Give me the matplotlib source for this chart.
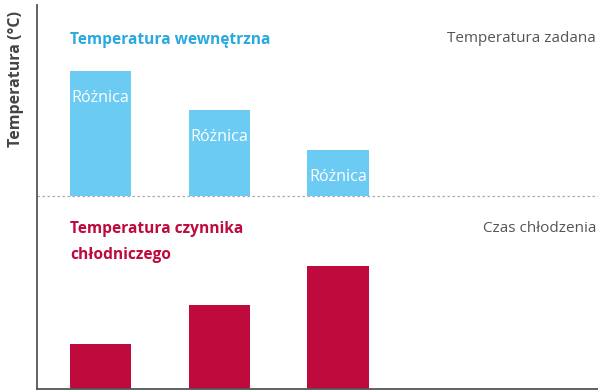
import matplotlib
matplotlib.use("Agg")
import matplotlib.pyplot as plt

# Data (arbitrary temperature/time units)
positions = [0, 1, 2]
baseline = 193  # set-point temperature level (dashed line)
diff_heights = [125, 86, 46]      # indoor temperature above set point
refrigerant_heights = [45, 84, 123]
bar_label = "Różnica"

blue = "#6ccbf3"
red = "#be0a3c"
head_blue = "#2aa9e0"
head_red = "#be0a3c"
grey_text = "#555555"

plt.rcParams["font.family"] = ["Open Sans", "DejaVu Sans"]

W, H = 598, 391
fig = plt.figure(figsize=(W / 100, H / 100), dpi=100)
ax = fig.add_axes([37 / W, 2 / H, (W - 37) / W, 384 / H])

ax.set_xlim(-0.535, 4.19)
ax.set_ylim(0, 384)

width = 0.515
ax.bar(positions, diff_heights, width=width, bottom=baseline, color=blue, zorder=2)
ax.bar(positions, refrigerant_heights, width=width, bottom=0, color=red, zorder=2)

for x, h in zip(positions, diff_heights):
    ax.text(x, baseline + h - 27, bar_label, color="white", ha="center", va="center",
            fontsize=11.6, zorder=3)

ax.axhline(baseline, color="#aaaaaa", lw=0.9, ls=(0, (2, 2)), zorder=1)

for side in ["top", "right"]:
    ax.spines[side].set_visible(False)
for side in ["left", "bottom"]:
    ax.spines[side].set_color("#555555")
    ax.spines[side].set_linewidth(1.3)
ax.set_xticks([])
ax.set_yticks([])

# Annotations
hx = -0.255
ax.text(hx, 384 - 35, "Temperatura wewnętrzna", color=head_blue, fontsize=11.2,
        fontweight="bold", ha="left", va="center")
ax.text(4.175, 384 - 34, "Temperatura zadana", color=grey_text, fontsize=11,
        ha="right", va="center")
ax.text(hx, 389 - 229, "Temperatura czynnika", color=head_red, fontsize=11.2,
        fontweight="bold", ha="left", va="center")
ax.text(hx, 389 - 255, "chłodniczego", color=head_red, fontsize=11.2,
        fontweight="bold", ha="left", va="center")
ax.text(4.175, 389 - 229, "Czas chłodzenia", color=grey_text, fontsize=11,
        ha="right", va="center")

fig.text(16 / W, 1 - 79 / H, "Temperatura (°C)", rotation=90, color="#444444",
         fontsize=11.5, fontweight="bold", ha="center", va="center")

fig.savefig("out.png", dpi=100)
